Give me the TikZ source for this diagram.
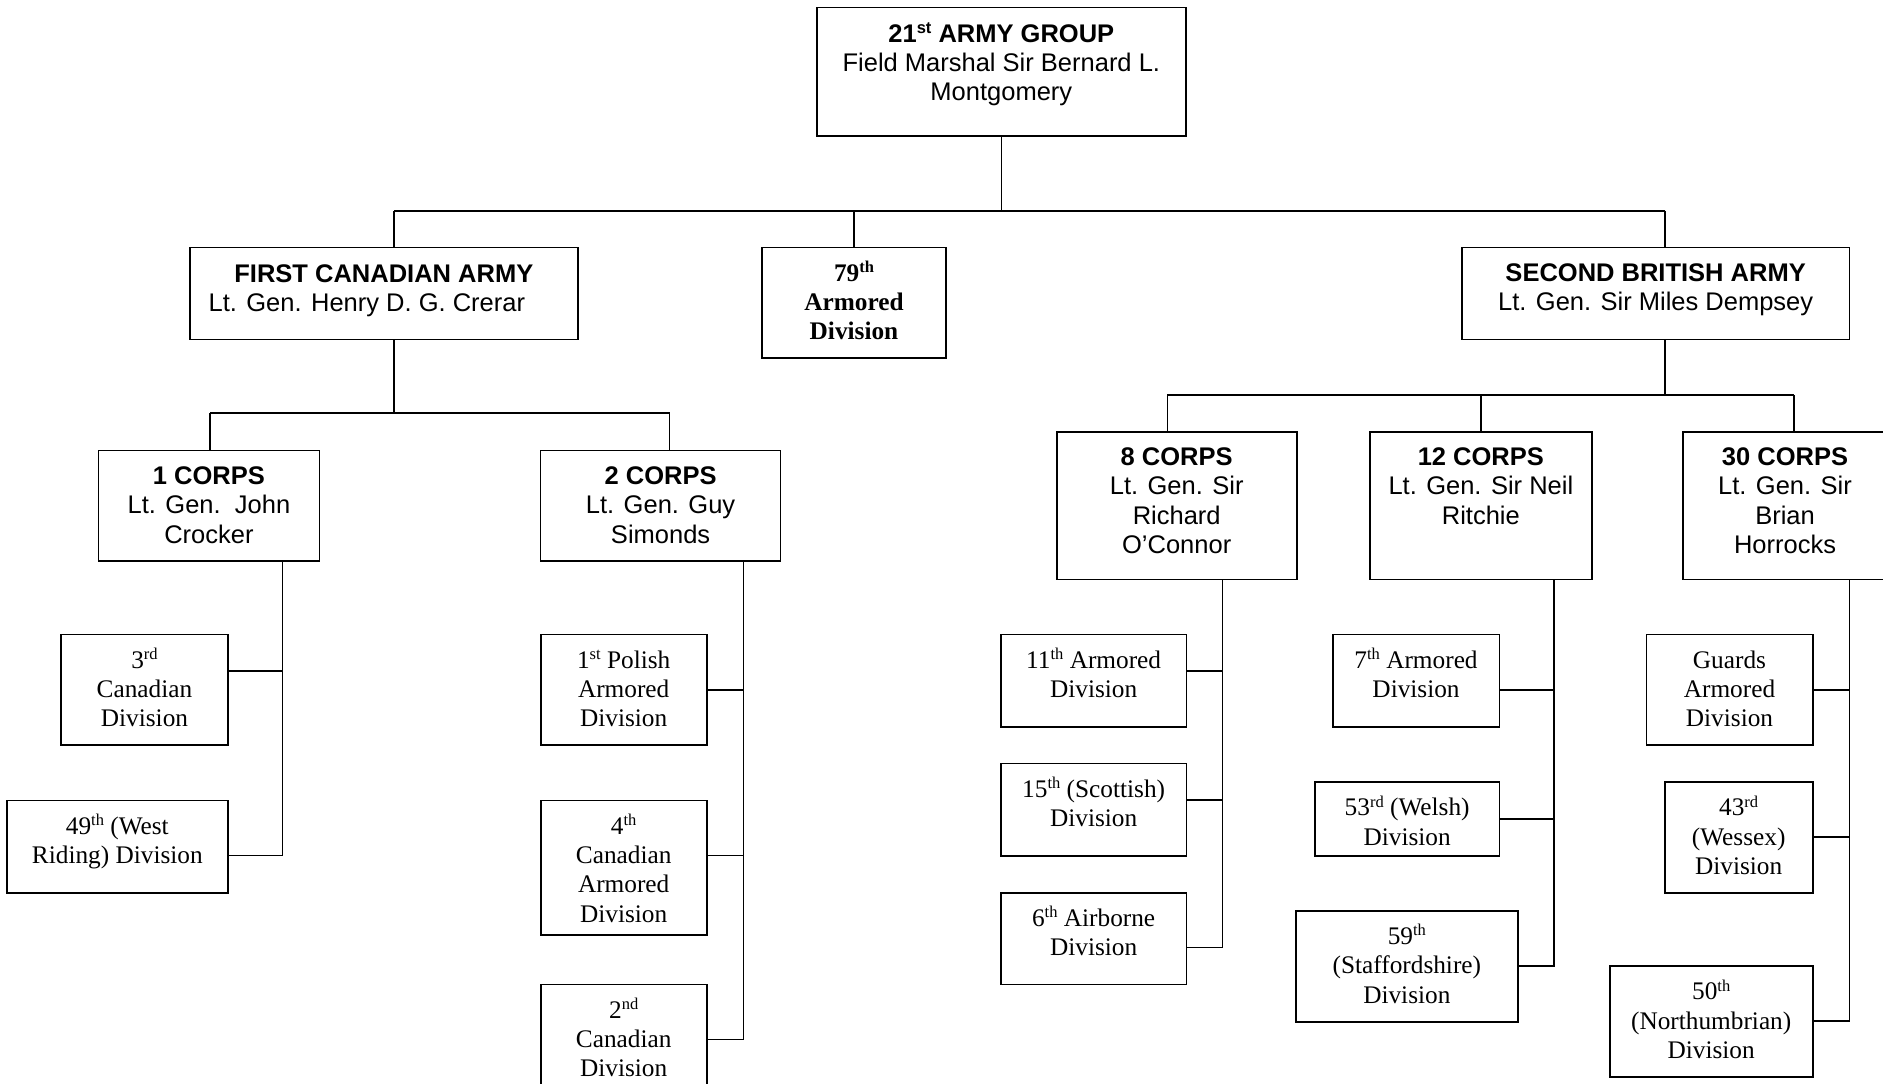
\documentclass[tikz,border=0pt]{standalone}
\usepackage{fontspec}
\setmainfont{Liberation Serif}
\newfontfamily\arialf{Liberation Sans}
\usetikzlibrary{fit}
\newcommand\sups[1]{\raisebox{8.5pt}{\fontsize{16.5}{16.5}\selectfont #1}}
\newcommand\lns[1]{\parbox[t]{420pt}{\centering #1}}
\begin{document}
\begin{tikzpicture}[x=1pt,y=-1pt,
  box/.style={draw, line width=1.6pt, inner sep=0pt, rectangle},
  ar/.style={font=\arialf\fontsize{25.5}{29.3}\selectfont, anchor=base, inner sep=0pt},
  tm/.style={font=\fontsize{25.3}{29.4}\selectfont, anchor=base, inner sep=0pt},
  ln/.style={line width=1.6pt}]
\useasboundingbox (0,0) rectangle (1883,1084);
\fill[white] (0,0) rectangle (1883,1084);

% ---------- boxes ----------
\node[box, fit={(816.7,7.3) (1186,136)}] (top) {};
\node[box, fit={(190,247.3) (577.7,339.5)}] (fca) {};
\node[box, fit={(762,247.3) (946,357.7)}] (d79) {};
\node[box, fit={(1462,247.3) (1849.3,339.5)}] (sba) {};

\node[box, fit={(98.5,450.3) (319.4,560.8)}] (c1) {};
\node[box, fit={(540.6,450.3) (780.6,560.8)}] (c2) {};
\node[box, fit={(1056.7,431.7) (1296.7,579.3)}] (c8) {};
\node[box, fit={(1370,431.7) (1591.7,579.3)}] (c12) {};
\node[box, fit={(1683,431.7) (1887,579.3)}] (c30) {};

\node[box, fit={(61,634.3) (228,745)}] (d3) {};
\node[box, fit={(6.7,800.3) (228,892.7)}] (d49) {};
\node[box, fit={(540.7,634.3) (706.7,745)}] (dpol) {};
\node[box, fit={(540.7,800.3) (706.7,934.7)}] (d4) {};
\node[box, fit={(540.7,984.3) (706.7,1100)}] (d2) {};
\node[box, fit={(1001,634.3) (1186.3,726.7)}] (d11) {};
\node[box, fit={(1001,763.3) (1186.3,855.7)}] (d15) {};
\node[box, fit={(1001,892.7) (1186.3,984.3)}] (d6) {};
\node[box, fit={(1332.8,634.3) (1499.3,726.7)}] (d7) {};
\node[box, fit={(1315,782) (1499.3,856)}] (d53) {};
\node[box, fit={(1296,910.7) (1517.7,1022)}] (d59) {};
\node[box, fit={(1646.3,634.3) (1812.7,745)}] (dgu) {};
\node[box, fit={(1664.7,782) (1812.7,892.7)}] (d43) {};
\node[box, fit={(1609.7,966) (1812.7,1076.7)}] (d50) {};

% ---------- texts ----------
\node[ar] (top-t) at ([yshift=-35.5pt]top.north) {\lns{\textbf{21\sups{st} ARMY GROUP}\\Field Marshal Sir Bernard L.\\Montgomery}};
\node[ar] (fca-t) at ([yshift=-35.5pt]fca.north) {\lns{\textbf{FIRST CANADIAN ARMY}\\Lt. Gen. Henry D. G. Crerar\hspace*{34pt}}};
\node[tm] (d79-t) at ([yshift=-34.5pt]d79.north) {\lns{\textbf{79\sups{th}}\\\textbf{Armored}\\\textbf{Division}}};
\node[ar] (sba-t) at ([yshift=-35pt]sba.north) {\lns{\textbf{SECOND BRITISH ARMY}\\Lt. Gen. Sir Miles Dempsey}};

\node[ar] (c1-t) at ([yshift=-35pt]c1.north) {\lns{\textbf{1 CORPS}\\Lt. Gen.\ \ John\\Crocker}};
\node[ar] (c2-t) at ([yshift=-35pt]c2.north) {\lns{\textbf{2 CORPS}\\Lt. Gen. Guy\\Simonds}};
\node[ar] (c8-t) at ([yshift=-34.5pt]c8.north) {\lns{\textbf{8 CORPS}\\Lt. Gen. Sir\\Richard\\O’Connor}};
\node[ar] (c12-t) at ([yshift=-34.5pt]c12.north) {\lns{\textbf{12 CORPS}\\Lt. Gen. Sir Neil\\Ritchie}};
\node[ar] (c30-t) at ([yshift=-34.5pt]c30.north) {\lns{\textbf{30 CORPS}\\Lt. Gen. Sir\\Brian\\Horrocks}};

\node[tm] (d3-t) at ([yshift=-34.5pt]d3.north) {\lns{3\sups{rd}\\Canadian\\Division}};
\node[tm] (d49-t) at ([yshift=-34.5pt]d49.north) {\lns{49\sups{th} (West\\Riding) Division}};
\node[tm] (dpol-t) at ([yshift=-34.5pt]dpol.north) {\lns{1\sups{st} Polish\\Armored\\Division}};
\node[tm] (d4-t) at ([yshift=-34.5pt]d4.north) {\lns{4\sups{th}\\Canadian\\Armored\\Division}};
\node[tm] (d2-t) at ([yshift=-34.5pt]d2.north) {\lns{2\sups{nd}\\Canadian\\Division}};
\node[tm] (d11-t) at ([yshift=-34.5pt]d11.north) {\lns{11\sups{th} Armored\\Division}};
\node[tm] (d15-t) at ([yshift=-34.5pt]d15.north) {\lns{15\sups{th} (Scottish)\\Division}};
\node[tm] (d6-t) at ([yshift=-34.5pt]d6.north) {\lns{6\sups{th} Airborne\\Division}};
\node[tm] (d7-t) at ([yshift=-34.5pt]d7.north) {\lns{7\sups{th} Armored\\Division}};
\node[tm] (d53-t) at ([yshift=-34.5pt]d53.north) {\lns{53\sups{rd} (Welsh)\\Division}};
\node[tm] (d59-t) at ([yshift=-34.5pt]d59.north) {\lns{59\sups{th}\\(Staffordshire)\\Division}};
\node[tm] (dgu-t) at ([yshift=-34.5pt]dgu.north) {\lns{Guards\\Armored\\Division}};
\node[tm] (d43-t) at ([yshift=-34.5pt]d43.north) {\lns{43\sups{rd}\\(Wessex)\\Division}};
\node[tm] (d50-t) at ([yshift=-34.5pt]d50.north) {\lns{50\sups{th}\\(Northumbrian)\\Division}};

% ---------- connectors: top level ----------
\coordinate (jT) at (1001.3,210.7);
\coordinate (jF) at (394,210.7);
\coordinate (j79) at (854,210.7);
\coordinate (jS) at (1665,210.7);
\draw[ln] (jT |- top.south) -- (jT);
\draw[ln] (jF) -- (jS);
\draw[ln] (jF) -- (jF |- fca.north);
\draw[ln] (j79) -- (j79 |- d79.north);
\draw[ln] (jS) -- (jS |- sba.north);

% ---------- First Canadian Army ----------
\coordinate (jF2) at (394,413.1);
\coordinate (j1) at (210,413.1);
\coordinate (j2) at (669.5,413.1);
\draw[ln] (jF2 |- fca.south) -- (jF2);
\draw[ln] (j1) -- (j2);
\draw[ln] (j1) -- (j1 |- c1.north);
\draw[ln] (j2) -- (j2 |- c2.north);

% 1 Corps
\coordinate (k3) at (282.5,671);
\coordinate (k49) at (282.5,855.3);
\draw[ln] (k49 |- c1.south) -- (k49) -- (k49 -| d49.east);
\draw[ln] (k3) -- (k3 -| d3.east);

% 2 Corps
\coordinate (kpol) at (743.3,690);
\coordinate (k4) at (743.3,855.3);
\coordinate (k2) at (743.3,1039.3);
\draw[ln] (k2 |- c2.south) -- (k2) -- (k2 -| d2.east);
\draw[ln] (kpol) -- (kpol -| dpol.east);
\draw[ln] (k4) -- (k4 -| d4.east);

% ---------- Second British Army ----------
\coordinate (jS2) at (1665,395);
\coordinate (j8) at (1167.3,395);
\coordinate (j12) at (1481,395);
\coordinate (j30) at (1794,395);
\draw[ln] (jS2 |- sba.south) -- (jS2);
\draw[ln] (j8) -- (j30);
\draw[ln] (j8) -- (j8 |- c8.north);
\draw[ln] (j12) -- (j12 |- c12.north);
\draw[ln] (j30) -- (j30 |- c30.north);

% 8 Corps
\coordinate (k11) at (1222.4,671);
\coordinate (k15) at (1222.4,800);
\coordinate (k6) at (1222.4,947.5);
\draw[ln] (k6 |- c8.south) -- (k6) -- (k6 -| d6.east);
\draw[ln] (k11) -- (k11 -| d11.east);
\draw[ln] (k15) -- (k15 -| d15.east);

% 12 Corps
\coordinate (k7) at (1554.2,690);
\coordinate (k53) at (1554.2,819);
\coordinate (k59) at (1554.2,965.7);
\draw[ln] (k59 |- c12.south) -- (k59) -- (k59 -| d59.east);
\draw[ln] (k7) -- (k7 -| d7.east);
\draw[ln] (k53) -- (k53 -| d53.east);

% 30 Corps
\coordinate (kgu) at (1849.3,690);
\coordinate (k43) at (1849.3,837);
\coordinate (k50) at (1849.3,1021);
\draw[ln] (k50 |- c30.south) -- (k50) -- (k50 -| d50.east);
\draw[ln] (kgu) -- (kgu -| dgu.east);
\draw[ln] (k43) -- (k43 -| d43.east);
\end{tikzpicture}
\end{document}
